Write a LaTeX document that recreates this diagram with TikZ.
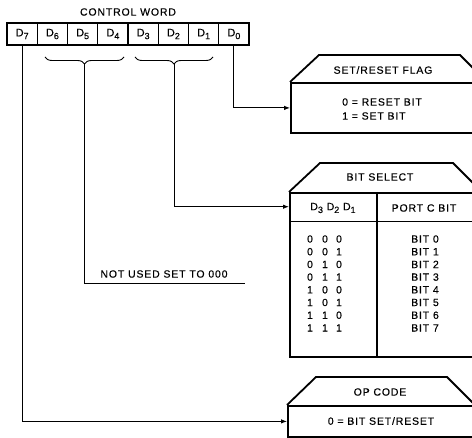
\documentclass[tikz,border=0pt]{standalone}
\usepackage{fontspec}
\setmainfont{Liberation Sans}[LetterSpace=8, FakeBold=0.35]
\usetikzlibrary{arrows.meta,decorations.pathreplacing}
\newcommand\dsb[1]{\raisebox{-2.8pt}{\fontsize{9}{10}\selectfont #1}}
\begin{document}
\begin{tikzpicture}[x=1pt,y=-1pt,
  cell/.style={draw, line width=1.1pt, minimum width=30.25pt, minimum height=22pt, inner sep=0pt, font=\fontsize{11}{12}\selectfont},
  tbox/.style={draw, line width=1.8pt, inner sep=0pt, anchor=north west},
  trapcap/.style={line width=1.8pt, line join=miter},
  conn/.style={line width=0.9pt},
  arr/.style={conn, -{Latex[length=6pt,width=4.5pt]}},
  lbl/.style={font=\fontsize{10.5}{12}\selectfont, inner sep=0pt},
  brc/.style={decorate, decoration={brace, mirror, amplitude=7pt}, line width=0.9pt}
]
\clip (0,0) rectangle (472,438);
% control word register
\node[lbl] (cw) at (128,12) {CONTROL WORD};
\foreach \i in {0,...,7}{
  \pgfmathtruncatemacro\b{7-\i}
  \node[cell] (d\b) at ({7+30.25*(\i+0.5)},34) {D\dsb{\b}};
}
\draw[line width=1.8pt] (d7.north west) rectangle (d0.south east);
% braces
\draw[brc] (45,57) -- (124,57);
\draw[brc] (135,57) -- (213,57);
\coordinate (b1) at (84.5,64.5);
\coordinate (b2) at (174,64.5);
\coordinate (nu) at (245,283);
\node[lbl] (nut) at (164,274) {NOT USED SET TO 000};
% SET/RESET FLAG box
\node[tbox, minimum width=186pt, minimum height=50pt] (sr) at (290,82) {};
\draw[trapcap] (sr.north west) -- (319,55) -- (460,55) -- (487,82);
\node[lbl] (srt) at (383,70) {SET/RESET FLAG};
\node[lbl, anchor=west] (sr0) at (342,102) {0 = RESET BIT};
\node[lbl, anchor=west] (sr1) at (342,116) {1 = SET BIT};
% BIT SELECT box
\node[tbox, minimum width=187pt, minimum height=164pt] (bs) at (289,192) {};
\node[anchor=north west, inner sep=0pt, minimum width=187pt, minimum height=29pt] (bsh) at (289,192) {};
\draw[trapcap] (bs.north west) -- (320,163) -- (453,163) -- (482,192);
\draw[line width=1.1pt] (bsh.south west) -- (bsh.south east);
\coordinate (dv) at (377,192);
\draw[line width=1.1pt] (dv) -- (dv |- bs.south);
\node[lbl] (bst) at (380,177) {BIT SELECT};
\node[lbl] (h1) at (333,208) {D\dsb{3} D\dsb{2} D\dsb{1}};
\node[lbl] (h2) at (424,208) {PORT C BIT};
\foreach \r/\a/\bb/\c in {0/0/0/0,1/0/0/1,2/0/1/0,3/0/1/1,4/1/0/0,5/1/0/1,6/1/1/0,7/1/1/1}{
  \node[lbl] (ra\r) at (310,{239+12.7*\r}) {\a};
  \node[lbl] (rb\r) at (325,{239+12.7*\r}) {\bb};
  \node[lbl] (rc\r) at (339,{239+12.7*\r}) {\c};
  \node[lbl] (rp\r) at (425,{239+12.7*\r}) {BIT \r};
}
% OP CODE box
\node[tbox, minimum width=189pt, minimum height=31pt] (op) at (287,405) {};
\draw[trapcap] (op.north west) -- (316,377) -- (447,377) -- (475,405);
\node[lbl] (opt) at (380,392) {OP CODE};
\node[lbl] (op0) at (381,421) {0 = BIT SET/RESET};
% connectors
\draw[conn] (b1) |- (nu);
\draw[arr] (b2) |- (bsh.west);
\draw[arr] (d0.south) |- (sr.west);
\draw[arr] (d7.south) |- (op.west);
\end{tikzpicture}
\end{document}
